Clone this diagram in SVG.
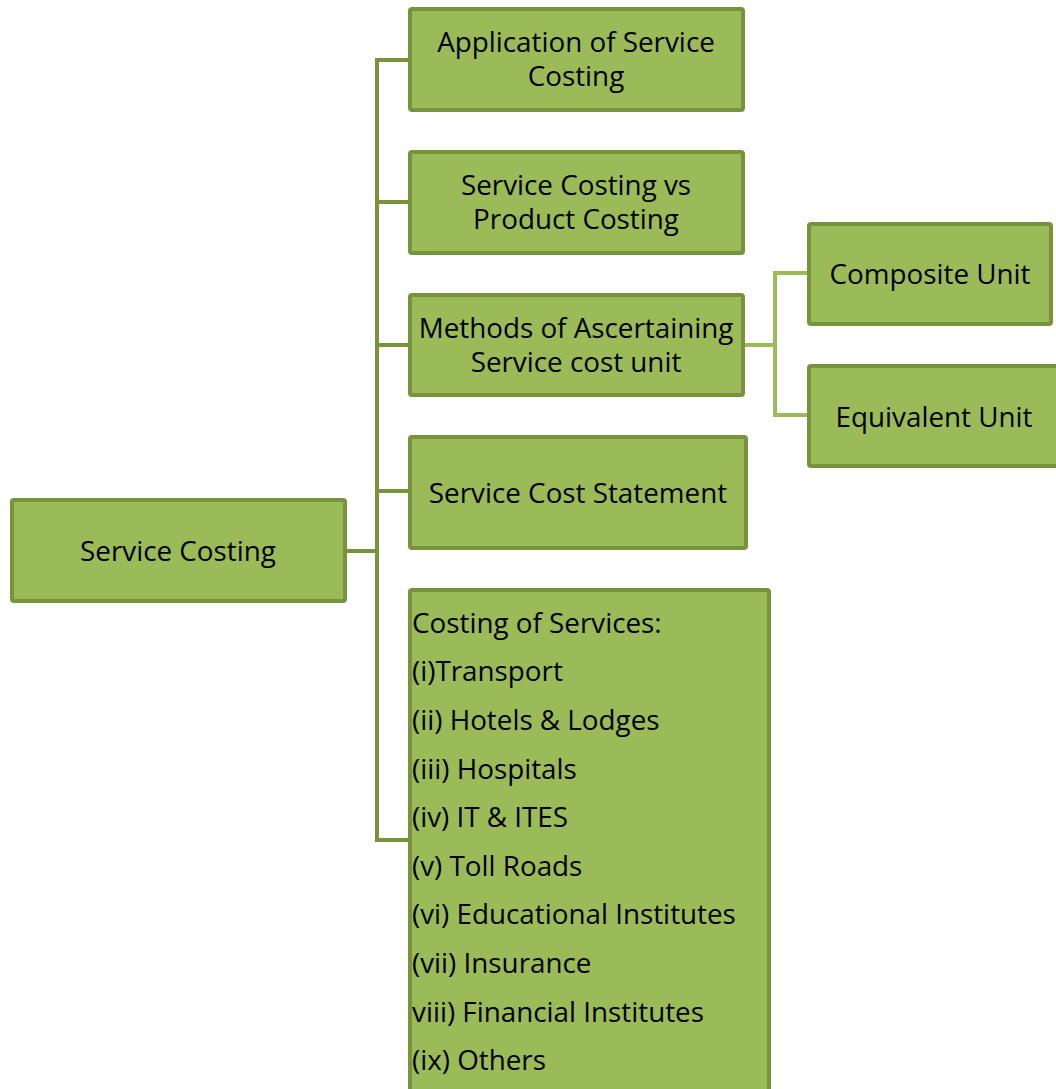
<svg xmlns="http://www.w3.org/2000/svg" width="1056" height="1089" viewBox="0 0 1056 1089">
<style>
.box{fill:#9BBB59;stroke:#77933C;stroke-width:4}
.t{font-family:"Open Sans","Noto Sans","DejaVu Sans",sans-serif;font-size:27.8px;fill:#000}
.c{text-anchor:middle}
.main{fill:none;stroke:#77933C;stroke-width:4}
.sub{fill:none;stroke:#9BBB59;stroke-width:4}
</style>
<rect width="1056" height="1089" fill="#fff"/>
<g id="connectors">
<path class="main" d="M347,551 H377"/>
<path class="main" d="M410,60 H377 V840 H410"/>
<path class="main" d="M377,202 H410"/>
<path class="main" d="M377,345 H410"/>
<path class="main" d="M377,491 H410"/>
<path class="sub" d="M743,345 H775"/>
<path class="sub" d="M809,273 H775 V415 H809"/>
</g>
<g id="root">
<rect class="box" x="12" y="500" width="333" height="101" rx="2"/>
<text class="t c" x="178" y="561">Service Costing</text>
</g>
<g id="application">
<rect class="box" x="410" y="9" width="333" height="101" rx="2"/>
<text class="t c" x="576" y="52">Application of Service</text>
<text class="t c" x="576" y="86">Costing</text>
</g>
<g id="vs">
<rect class="box" x="410" y="152" width="333" height="101" rx="2"/>
<text class="t c" x="576" y="195">Service Costing vs</text>
<text class="t c" x="576" y="229">Product Costing</text>
</g>
<g id="methods">
<rect class="box" x="410" y="295" width="333" height="100" rx="2"/>
<text class="t c" x="576" y="338">Methods of Ascertaining</text>
<text class="t c" x="576" y="372">Service cost unit</text>
</g>
<g id="statement">
<rect class="box" x="410" y="437" width="336" height="111" rx="2"/>
<text class="t c" x="578" y="503">Service Cost Statement</text>
</g>
<g id="services">
<rect class="box" x="410" y="590" width="359" height="520" rx="2"/>
<text class="t" x="412" y="633">Costing of Services:</text>
<text class="t" x="412" y="681">(i)Transport</text>
<text class="t" x="412" y="730">(ii) Hotels &amp; Lodges</text>
<text class="t" x="412" y="779">(iii) Hospitals</text>
<text class="t" x="412" y="827">(iv) IT &amp; ITES</text>
<text class="t" x="412" y="876">(v) Toll Roads</text>
<text class="t" x="412" y="924">(vi) Educational Institutes</text>
<text class="t" x="412" y="973">(vii) Insurance</text>
<text class="t" x="412" y="1022">viii) Financial Institutes</text>
<text class="t" x="412" y="1070">(ix) Others</text>
</g>
<g id="composite">
<rect class="box" x="809" y="224" width="242" height="100" rx="2"/>
<text class="t c" x="930" y="284">Composite Unit</text>
</g>
<g id="equivalent">
<rect class="box" x="809" y="366" width="250" height="100" rx="2"/>
<text class="t c" x="934" y="427">Equivalent Unit</text>
</g>
</svg>
